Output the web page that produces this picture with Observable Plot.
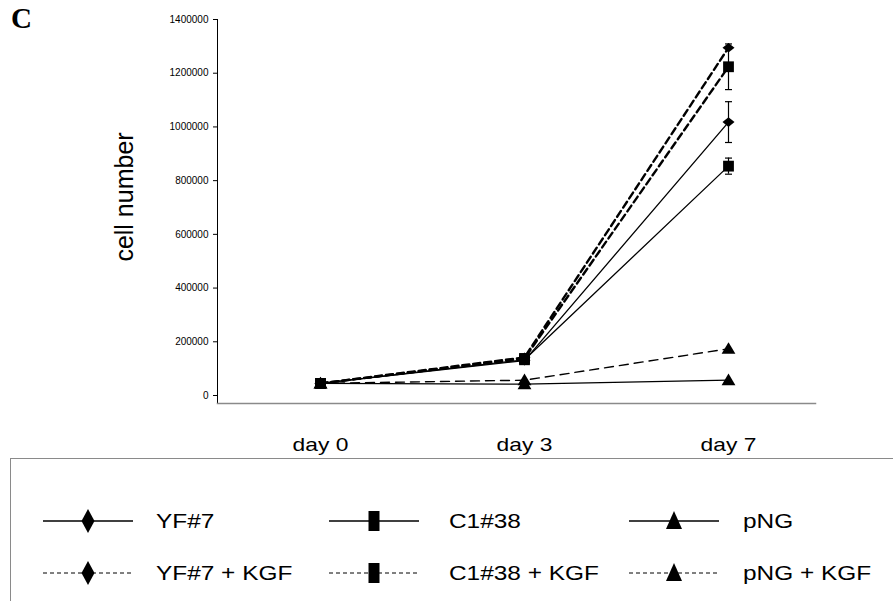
<!DOCTYPE html>
<html><head><meta charset="utf-8">
<script src="https://cdn.jsdelivr.net/npm/d3@7"></script>
<script src="https://cdn.jsdelivr.net/npm/@observablehq/plot@0.6"></script>
<style>
body{margin:0;background:#fff;font-family:"Liberation Sans",Arial,sans-serif;}
#wrap{position:relative;width:893px;height:601px;overflow:hidden;background:#fff;}
#chart{position:absolute;left:0;top:0;}
#panel{position:absolute;left:11px;top:4px;font-family:"Liberation Serif","Times New Roman",serif;font-weight:bold;font-size:29px;line-height:1;}
#ylabel{position:absolute;left:124px;top:197px;transform:translate(-50%,-50%) rotate(-90deg);font-size:25px;white-space:nowrap;line-height:1;}
#legend{position:absolute;left:10px;top:458px;width:900px;height:160px;border:1px solid #8a8a8a;box-sizing:border-box;}
.lg-item{position:absolute;}
.lg-text{position:absolute;font-size:20px;white-space:nowrap;line-height:1;transform-origin:0 50%;transform:translateY(-50%) scaleX(1.22);}
</style></head>
<body>
<div id="wrap">
  <div id="chart"></div>
  <div id="panel">C</div>
  <div id="ylabel">cell number</div>
  <div id="legend"></div>
</div>
<script>
// ---- data ----
const days = ["day 0", "day 3", "day 7"];
const yTicks = [0, 200000, 400000, 600000, 800000, 1000000, 1200000, 1400000];
const names = ["YF#7", "C1#38", "pNG", "YF#7 + KGF", "C1#38 + KGF", "pNG + KGF"];
const yf7 = [45000, 130000, 1018000];
const c138 = [45000, 133000, 854000];
const png = [45000, 42000, 57000];
const yf7Kgf = [45000, 142000, 1295000];
const c138Kgf = [45000, 138000, 1224000];
const pngKgf = [45000, 57000, 174000];
const yf7Err = [0, 0, 76000];
const c138Err = [0, 0, 30000];
const pngErr = [0, 0, 0];
const yf7KgfErr = [0, 0, 0];
const c138KgfErr = [0, 0, 85000];
const pngKgfErr = [0, 0, 0];

// ---- series config (styles) ----
const series = [
  {name: names[0], values: yf7, err: yf7Err, shape: "diamond", kgf: false},
  {name: names[1], values: c138, err: c138Err, shape: "square", kgf: false},
  {name: names[2], values: png, err: pngErr, shape: "triangle", kgf: false},
  {name: names[3], values: yf7Kgf, err: yf7KgfErr, shape: "diamond", kgf: true},
  {name: names[4], values: c138Kgf, err: c138KgfErr, shape: "square", kgf: true},
  {name: names[5], values: pngKgf, err: pngKgfErr, shape: "triangle", kgf: true}
];
const lineStyle = {
  "YF#7": {w: 1.3, dash: null},
  "C1#38": {w: 1.3, dash: null},
  "pNG": {w: 1.3, dash: null},
  "YF#7 + KGF": {w: 2.4, dash: "7,4"},
  "C1#38 + KGF": {w: 2.4, dash: "7,4"},
  "pNG + KGF": {w: 1.4, dash: "9,6"}
};

const rows = [];
series.forEach(s => s.values.forEach((v, i) => rows.push({series: s.name, shape: s.shape, day: days[i], value: v, err: s.err[i]})));

// custom symbols
const rOf = size => Math.sqrt(size / Math.PI);
const symDiamond = {draw(ctx, size) { const r = rOf(size); ctx.moveTo(0, -0.8 * r); ctx.lineTo(r, 0); ctx.lineTo(0, 0.8 * r); ctx.lineTo(-r, 0); ctx.closePath(); }};
const symSquare = {draw(ctx, size) { const r = rOf(size) * 0.9; ctx.rect(-r, -r, 2 * r, 2 * r); }};
const symTriangle = {draw(ctx, size) { const r = rOf(size); ctx.moveTo(0, -1.1 * r); ctx.lineTo(1.15 * r, 0.85 * r); ctx.lineTo(-1.15 * r, 0.85 * r); ctx.closePath(); }};
const symCap = {draw(ctx, size) { const r = rOf(size); ctx.moveTo(-r, 0); ctx.lineTo(r, 0); }};
const symbols = {diamond: symDiamond, square: symSquare, triangle: symTriangle};

const lineMarks = series
  .slice().sort((a, b) => a.kgf - b.kgf)
  .map(s => Plot.line(rows.filter(d => d.series === s.name), {
    x: "day", y: "value", stroke: "black",
    strokeWidth: lineStyle[s.name].w,
    strokeDasharray: lineStyle[s.name].dash
  }));

const errRows = rows.filter(d => d.err > 0);

const dotMarks = ["triangle", "square", "diamond"].map(shape =>
  Plot.dot(rows.filter(d => d.shape === shape), {x: "day", y: "value", symbol: symbols[shape], r: 6, fill: "black", stroke: "none"}));

const chart = Plot.plot({
  width: 893, height: 457,
  marginLeft: 217, marginRight: 78, marginTop: 19, marginBottom: 54,
  style: {fontFamily: "'Liberation Sans', Arial, sans-serif", background: "transparent"},
  x: {type: "point", domain: days, range: [320, 728], padding: 0, label: null},
  y: {domain: [0, 1400000], range: [395, 19], label: null},
  marks: [
    Plot.frame({anchor: "left", stroke: "#000", strokeWidth: 1}),
    Plot.frame({anchor: "bottom", stroke: "#8a8a8a", strokeWidth: 1.5}),
    Plot.axisY({ticks: yTicks, tickSize: 4, tickPadding: 5, fontSize: 10, tickFormat: d3.format("d"), label: null, stroke: "#000"}),
    Plot.axisX({tickSize: 0, tickPadding: 34, fontSize: 19, label: null}),
    ...lineMarks,
    Plot.ruleX(errRows, {x: "day", y1: d => d.value - d.err, y2: d => d.value + d.err, stroke: "black", strokeWidth: 1.2}),
    Plot.dot(errRows, {x: "day", y: d => d.value - d.err, symbol: symCap, r: 3.5, stroke: "black", fill: "none", strokeWidth: 1.2}),
    Plot.dot(errRows, {x: "day", y: d => d.value + d.err, symbol: symCap, r: 3.5, stroke: "black", fill: "none", strokeWidth: 1.2}),
    ...dotMarks
  ]
});
document.getElementById("chart").appendChild(chart);

// stretch x tick labels horizontally like the reference
d3.select(chart).selectAll('g[aria-label="x-axis tick label"] text').each(function() {
  const len = this.getComputedTextLength();
  this.setAttribute("textLength", (len * 1.2).toFixed(1));
  this.setAttribute("lengthAdjust", "spacingAndGlyphs");
});

// ---- legend ----
const legend = d3.select("#legend");
const colLine = [32, 318, 618];     // relative to legend box
const colText = [145, 438, 732];
const rowY = [62, 114];
const lgSym = {
  diamond: (p) => { p.moveTo(0, -12); p.lineTo(6.5, 0); p.lineTo(0, 12); p.lineTo(-6.5, 0); p.closePath(); },
  square: (p) => { p.rect(-5.5, -10, 11, 20); },
  triangle: (p) => { p.moveTo(0, -10); p.lineTo(8, 8); p.lineTo(-8, 8); p.closePath(); }
};
series.forEach((s, k) => {
  const col = k % 3, row = Math.floor(k / 3);
  const svg = legend.append("svg")
    .attr("class", "lg-item")
    .style("left", colLine[col] + "px")
    .style("top", (rowY[row] - 15) + "px")
    .attr("width", 92).attr("height", 30);
  svg.append("line").attr("x1", 0).attr("x2", 90).attr("y1", 15).attr("y2", 15)
    .attr("stroke", "black").attr("stroke-width", s.kgf ? 1 : 1.4)
    .attr("stroke-dasharray", s.kgf ? "4,3" : null);
  const p = d3.path();
  lgSym[s.shape](p);
  svg.append("path").attr("transform", "translate(45,15)").attr("d", p.toString()).attr("fill", "black");
  legend.append("div").attr("class", "lg-text")
    .style("left", colText[col] + "px").style("top", rowY[row] + "px")
    .text(s.name);
});
</script>
</body></html>
